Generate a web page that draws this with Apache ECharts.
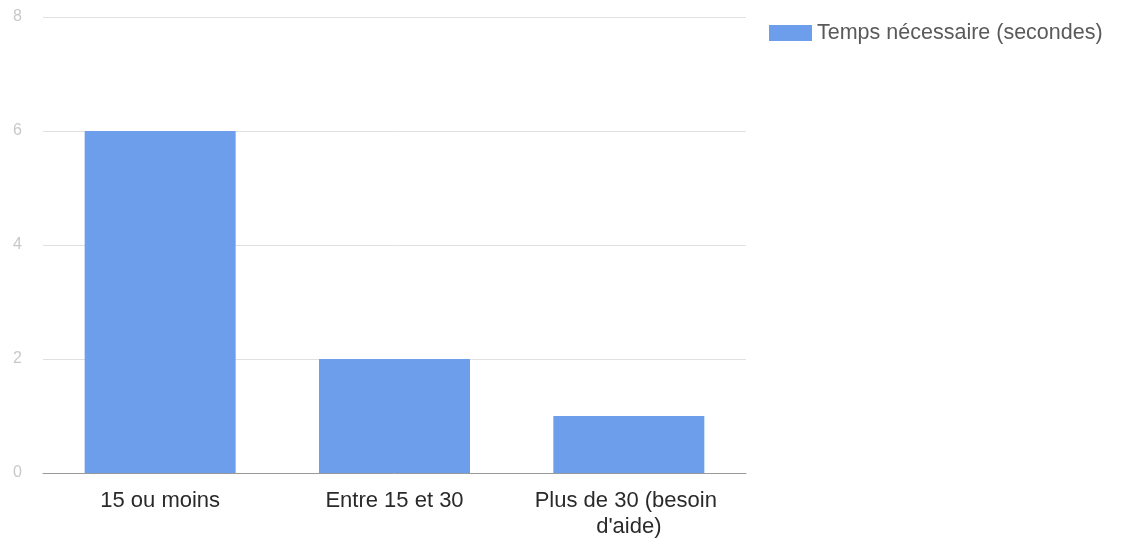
<!DOCTYPE html>
<html>
<head>
<meta charset="utf-8">
<script src="https://cdn.jsdelivr.net/npm/echarts@6/dist/echarts.min.js"></script>
<style>
  html, body { margin: 0; padding: 0; background: #fff; }
  #chart { width: 1124px; height: 544px; }
</style>
</head>
<body>
<div id="chart"></div>
<script>
// données du graphique
const categories = ['15 ou moins', 'Entre 15 et 30', "Plus de 30 (besoin d'aide)"];
const seriesName = 'Temps nécessaire (secondes)';
const values = [6, 2, 1];
const yTicks = { min: 0, max: 8, interval: 2 };

const chart = echarts.init(document.getElementById('chart'), null, { renderer: 'canvas' });

chart.setOption({
    animation: false,
    textStyle: { fontFamily: 'Liberation Sans, Arial, sans-serif' },
    grid: { left: 43, right: 378, top: 17, bottom: 71, containLabel: false },
    legend: {
        data: [seriesName],
        left: 764,
        top: 17,
        itemWidth: 43,
        itemHeight: 16,
        itemGap: 8,
        icon: 'rect',
        textStyle: { color: '#5a5a5a', fontSize: 21.5 }
    },
    xAxis: {
        type: 'category',
        data: categories,
        axisLine: { lineStyle: { color: '#999', width: 1 } },
        axisTick: { show: false },
        axisLabel: {
            color: '#2a2a2a',
            fontSize: 22,
            margin: 15,
            lineHeight: 26,
            width: 200,
            overflow: 'break',
            interval: 0
        }
    },
    yAxis: {
        type: 'value',
        min: yTicks.min,
        max: yTicks.max,
        interval: yTicks.interval,
        axisLine: { show: false },
        axisTick: { show: false },
        axisLabel: { color: '#c8c8c8', fontSize: 16, margin: 21 },
        splitLine: { lineStyle: { color: '#e0e0e0', width: 1 } }
    },
    series: [{
        name: seriesName,
        type: 'bar',
        data: values,
        barWidth: 151,
        itemStyle: { color: '#6d9eeb' }
    }]
});
</script>
</body>
</html>
